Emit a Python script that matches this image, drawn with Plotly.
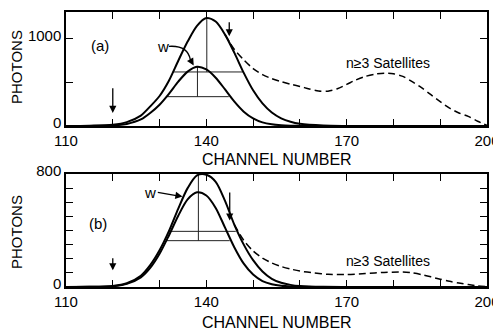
import plotly.graph_objects as go

# channel grid for the solid profiles
channels = [110, 115, 120, 123, 126, 128, 130, 132, 134, 136, 138, 140, 142,
            144, 146, 148, 150, 152, 154, 156, 158, 160, 165, 170, 180, 200]

# panel (a)
total_a = [0, 3, 15, 45, 120, 225, 345, 520, 750, 970, 1150, 1240, 1200,
           1050, 840, 610, 410, 260, 155, 88, 48, 25, 5, 1, 0, 0]
w_a = [0, 1, 6, 24, 75, 150, 245, 370, 510, 625, 680, 650, 555,
       420, 280, 165, 88, 42, 20, 9, 4, 2, 0, 0, 0, 0]
sat_ch_a = [144, 146, 148, 150, 152, 154, 156, 158, 160, 162, 164, 166, 168,
            170, 172, 174, 176, 178, 180, 182, 184, 186, 188, 190, 192, 194,
            196, 198, 200]
sat_a = [1050, 880, 760, 660, 590, 545, 510, 480, 455, 425, 402, 400, 428,
         478, 530, 570, 595, 607, 600, 570, 510, 440, 360, 280, 205, 150,
         110, 55, 8]

# panel (b)
total_b = [0, 1, 8, 27, 80, 155, 260, 395, 555, 700, 790, 795, 745,
           610, 440, 300, 190, 110, 58, 30, 15, 7, 1, 0, 0, 0]
w_b = [0, 1, 5, 22, 68, 135, 235, 365, 505, 620, 670, 648, 560,
       420, 280, 165, 88, 42, 20, 9, 4, 2, 0, 0, 0, 0]
sat_ch_b = [146, 148, 150, 152, 154, 156, 158, 160, 163, 166, 170, 174, 178,
            182, 184, 186, 188, 190, 192, 194, 196, 198, 200]
sat_b = [440, 330, 255, 205, 170, 145, 127, 113, 100, 90, 88, 95, 103,
         106, 100, 88, 72, 55, 40, 28, 17, 8, 2]

# FWHM construction lines (x, y pairs, None breaks)
fwhm_a_x = [132.8, 147.8, None, 140.1, 140.1, None, 131.5, 144.8, None, 138.1, 138.1]
fwhm_a_y = [621, 621, None, 1241, 621, None, 337, 337, None, 682, 337]
fwhm_b_x = [131.9, 146.3, None, 131.5, 145.0, None, 138.3, 138.3]
fwhm_b_y = [394, 394, None, 328, 328, None, 800, 328]

x_ticks = list(range(110, 201, 10))
x_text = ['110', '', '', '140', '', '', '170', '', '', '200']
ya_ticks = [0, 500, 1000]
ya_text = ['0', '', '1000']
yb_ticks = list(range(0, 801, 100))
yb_text = ['0', '', '', '', '', '', '', '', '800']

FONT = 'Liberation Sans, Arial, sans-serif'
# page body has an 8px margin, so the figure is placed at (8, 8) in the window
W, H, OFF = 493, 323, 8


def px(xp):
    return (xp - OFF) / W


def py(yp):
    return 1 - (yp - OFF) / H


fig = go.Figure()


def add_panel(xa, ya, tot, w, sch, sat, fx, fy):
    fig.add_trace(go.Scatter(x=fx, y=fy, mode='lines', xaxis=xa, yaxis=ya,
                             line=dict(color='#222', width=1)))
    for ys in (tot, w):
        fig.add_trace(go.Scatter(x=channels, y=ys, mode='lines', xaxis=xa, yaxis=ya,
                                 line=dict(color='black', width=2, shape='spline',
                                           smoothing=0.8)))
    fig.add_trace(go.Scatter(x=sch, y=sat, mode='lines', xaxis=xa, yaxis=ya,
                             line=dict(color='black', width=1.5, dash='7px,4px',
                                       shape='spline', smoothing=0.8)))


add_panel('x', 'y', total_a, w_a, sat_ch_a, sat_a, fwhm_a_x, fwhm_a_y)
add_panel('x2', 'y2', total_b, w_b, sat_ch_b, sat_b, fwhm_b_x, fwhm_b_y)

xdom = [px(66), px(487)]
axis_common = dict(showgrid=False, zeroline=False, showline=True, linecolor='black',
                   linewidth=1.5, mirror='ticks', ticks='inside', ticklen=7,
                   tickcolor='black', tickwidth=1.2, automargin=False,
                   tickfont=dict(family=FONT, size=15, color='black'))

fig.update_layout(
    width=W, height=H, margin=dict(l=0, r=0, t=0, b=0, autoexpand=False),
    paper_bgcolor='white', plot_bgcolor='white', showlegend=False,
    xaxis=dict(domain=xdom, range=[110, 200], anchor='y',
               tickvals=x_ticks, ticktext=x_text, **axis_common),
    yaxis=dict(domain=[py(126), py(12)], range=[0, 1310], anchor='x',
               tickvals=ya_ticks, ticktext=ya_text, ticklabelshift=-3, **axis_common),
    xaxis2=dict(domain=xdom, range=[110, 200], anchor='y2',
                tickvals=x_ticks, ticktext=x_text, **axis_common),
    yaxis2=dict(domain=[py(287), py(174)], range=[0, 800], anchor='x2',
                tickvals=yb_ticks, ticktext=yb_text, ticklabelshift=-3, **axis_common),
)

txt = dict(family=FONT, size=15, color='black')
ann = []
# axis titles
for yc in (py(159), py(322)):
    ann.append(dict(x=px(277), y=yc, xref='paper', yref='paper', text='CHANNEL NUMBER',
                    xanchor='center', yanchor='middle', showarrow=False,
                    font=dict(family=FONT, size=16, color='black')))
for yc in (py(67), py(232)):
    ann.append(dict(x=px(16), y=yc, xref='paper', yref='paper', text='PHOTONS',
                    xanchor='center', yanchor='middle', textangle=-90,
                    showarrow=False, font=txt))

# panel labels and notes
ann += [
    dict(x=117.3, y=930, xref='x', yref='y', text='(a)', showarrow=False, font=txt),
    dict(x=116.9, y=447, xref='x2', yref='y2', text='(b)', showarrow=False, font=txt),
    dict(x=178.8, y=724, xref='x', yref='y', text='n≥3 Satellites', showarrow=False,
         font=dict(family=FONT, size=14, color='black')),
    dict(x=178.8, y=184, xref='x2', yref='y2', text='n≥3 Satellites', showarrow=False,
         font=dict(family=FONT, size=14, color='black')),
]

# arrows: (xref, yref, x, y_head, x_tail, y_tail)
arrows = [
    ('x', 'y', 120, 150, 120, 450),
    ('x', 'y', 144.9, 1030, 144.9, 1210),
    ('x2', 'y2', 120, 118, 120, 215),
    ('x2', 'y2', 145, 470, 145, 680),
    ('x', 'y', 137.3, 695, 136.6, 760),
    ('x2', 'y2', 134.9, 640, 129.3, 672),
]
for xr, yr, x, y, axv, ayv in arrows:
    ann.append(dict(x=x, y=y, xref=xr, yref=yr, ax=axv, ay=ayv, axref=xr, ayref=yr,
                    showarrow=True, arrowhead=2, arrowsize=1.1, arrowwidth=1.3,
                    arrowcolor='black', text=''))
ann.append(dict(x=130.8, y=910, xref='x', yref='y', text='w', showarrow=False, font=txt))
ann.append(dict(x=128.0, y=672, xref='x2', yref='y2', text='w', showarrow=False, font=txt))

# curved leader from the "w" label in panel (a)
fig.add_shape(type='path', xref='x', yref='y',
              path='M 132.0,915 Q 136.0,930 136.6,760',
              line=dict(color='black', width=1.3))

fig.update_layout(annotations=ann)
fig.write_html("out.html")
